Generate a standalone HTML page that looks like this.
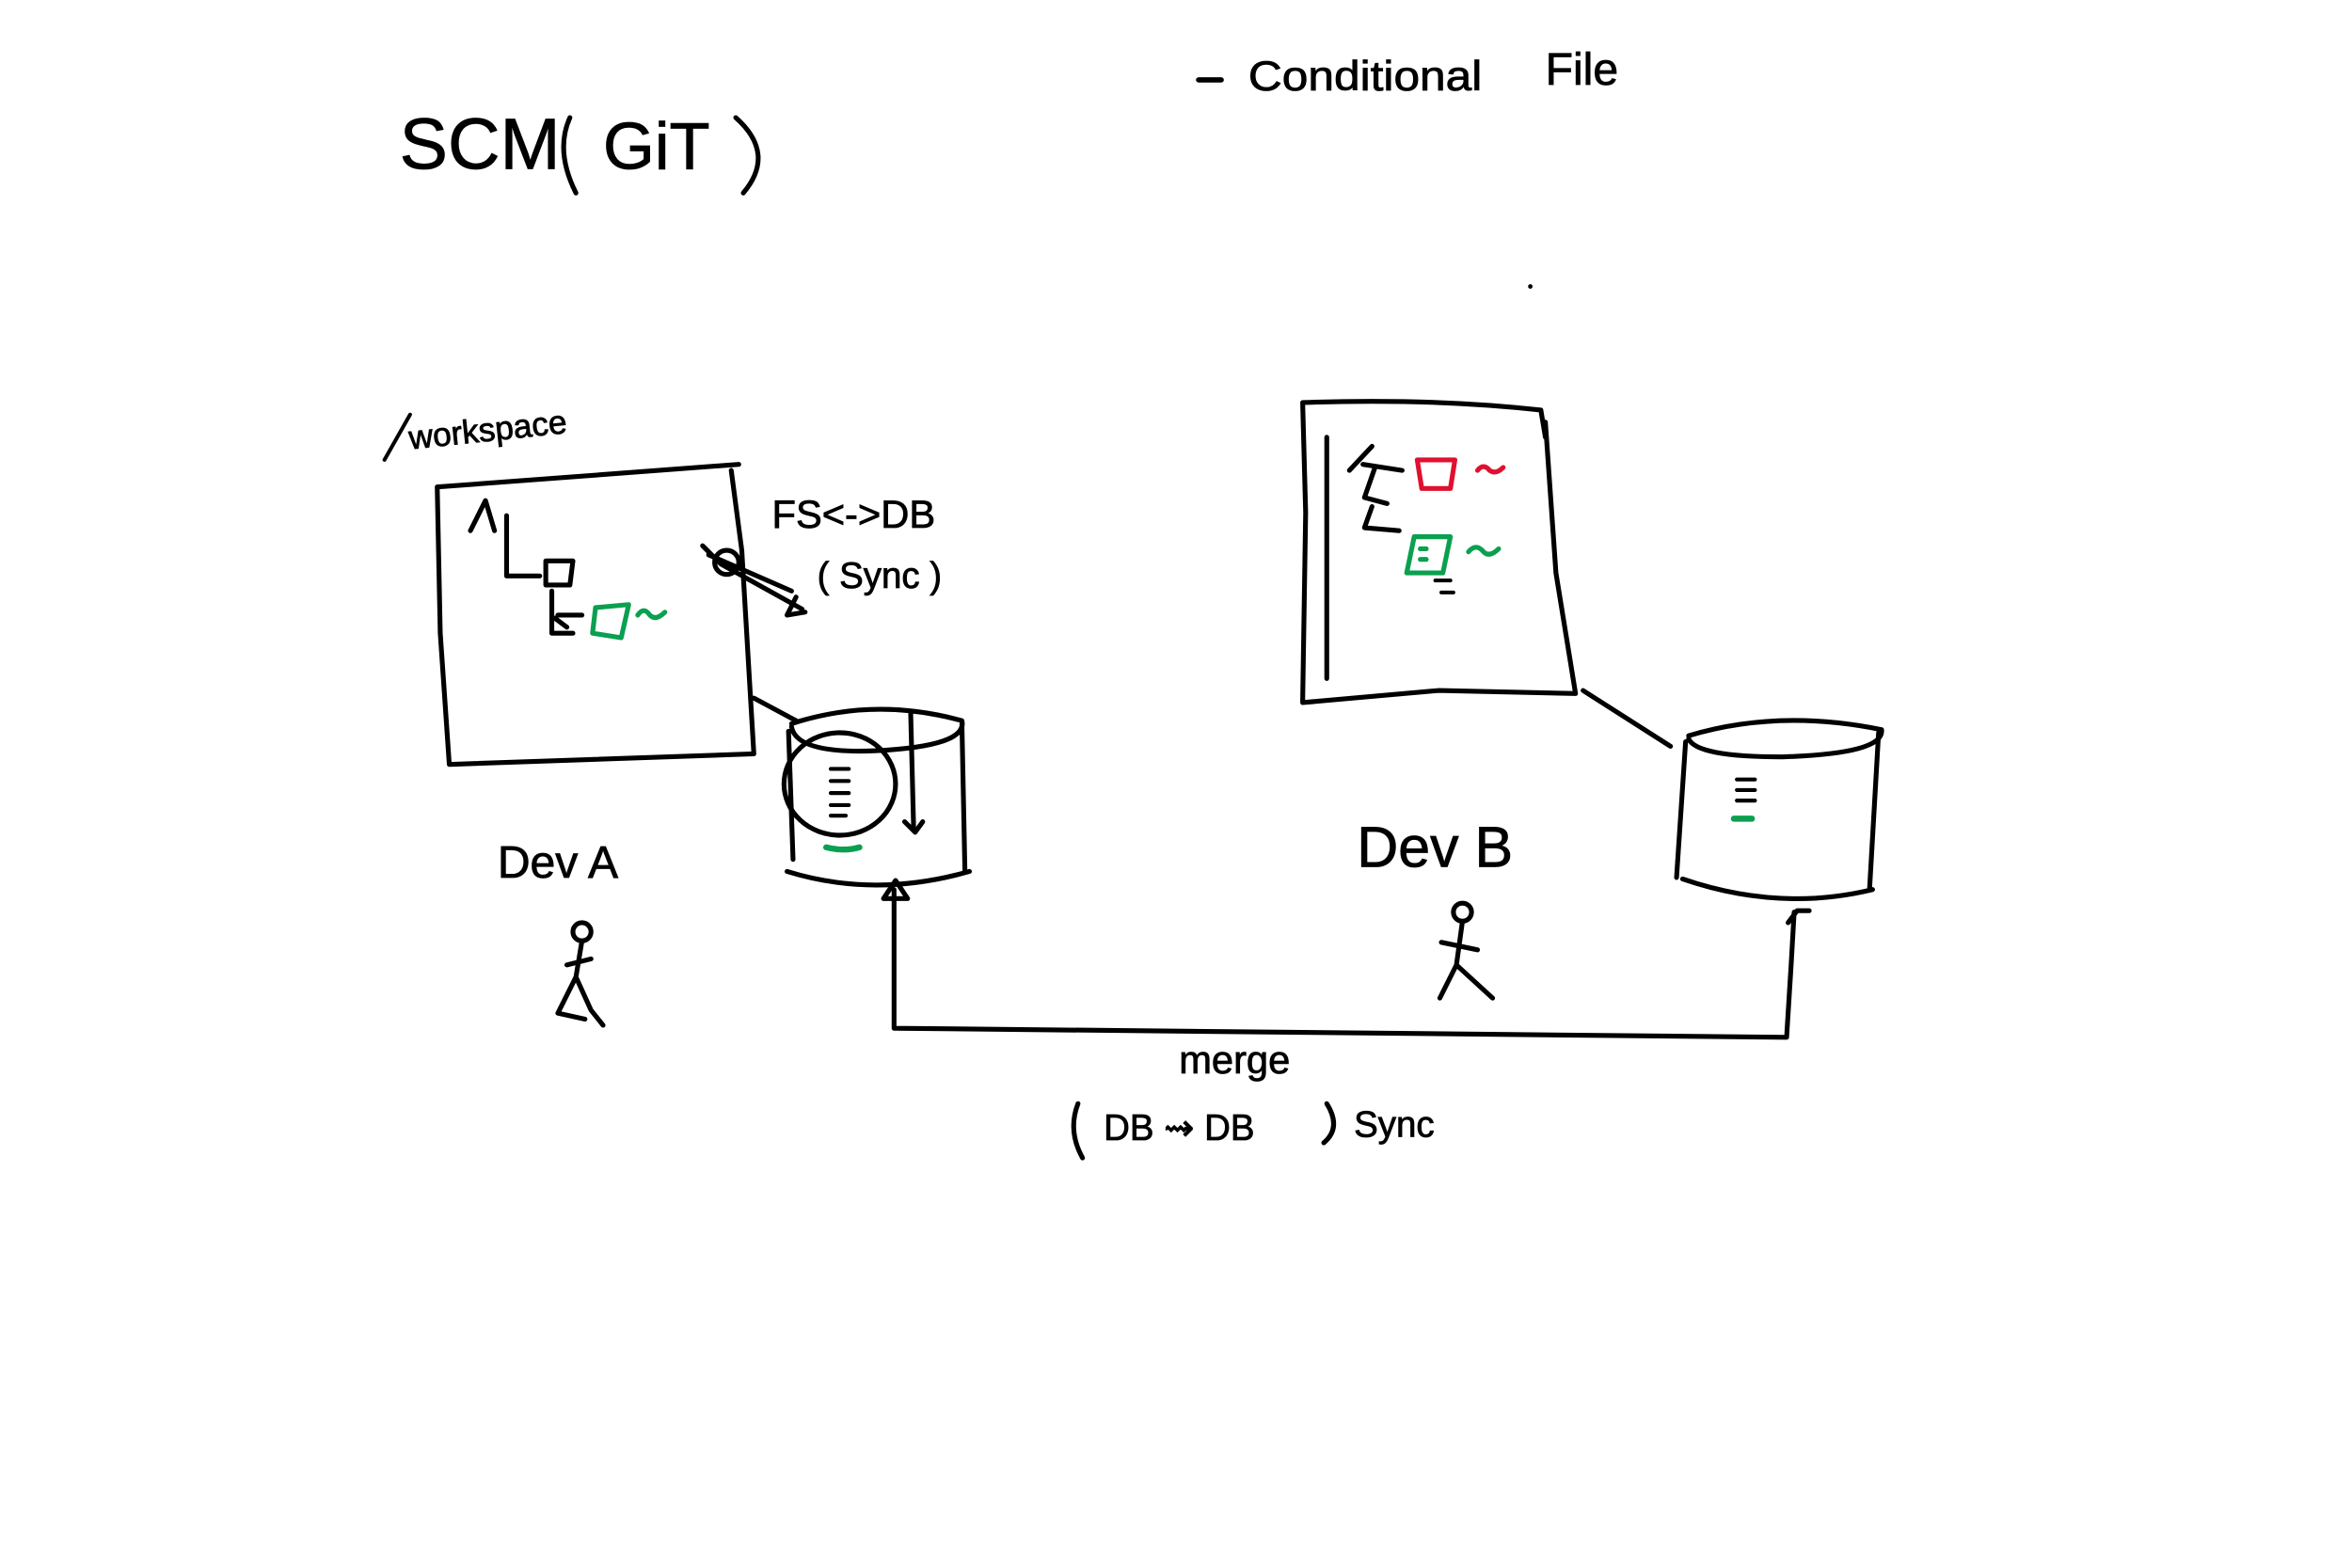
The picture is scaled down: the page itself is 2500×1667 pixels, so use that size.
<!DOCTYPE html>
<html><head><meta charset="utf-8"><style>
html,body{margin:0;padding:0;background:#fff;}
svg{display:block;}
text{font-family:"Liberation Sans",sans-serif;fill:#000;}
</style></head><body>
<svg width="2500" height="1667" viewBox="0 0 1560 1040" preserveAspectRatio="none" xmlns="http://www.w3.org/2000/svg">
<g fill="none" stroke="#000" stroke-width="3.2" stroke-linecap="round" stroke-linejoin="round">
<path d="M290 323 L490 308 M485 312 L492 365 L500 500 L298 507 L292 420 L290 323"/>
<path d="M312 352 L322 332 L328 352 M336 342 L336 382 L358 382 M362 372 L380 372 L378 388 L362 388 Z M366 392 L366 420 L380 420 M370 408 L386 408 M368 410 L376 416"/>
<path d="M466 362 L478 374 L532 404 M470 368 L525 392 M528 396 L522 408 L534 406"/>
<circle cx="482" cy="373" r="8"/>
<path d="M525 480 Q580 462 638 478 Q642 495 580 498 Q528 500 525 482 M523 485 L526 570 M638 480 L640 578 M522 578 Q580 596 643 578 M604 472 L606 550 M600 545 L607 552 L612 545"/>
<ellipse cx="557" cy="520" rx="37" ry="34"/>
<path d="M551 510h12 M551 518h12 M551 526h12 M551 534h12 M551 541h10" stroke-width="2.6"/>
<line x1="500" y1="463" x2="528" y2="478"/>
<path d="M864 267 Q950 264 1022 272 L1025 290 M1025 280 L1032 380 L1045 460 L954 458 L864 466 L866 340 L864 267"/>
<path d="M880 290 L880 450"/>
<path d="M895 312 L910 296 M904 308 L930 312 M912 310 L905 330 L920 334 M910 336 L905 350 L928 352"/>
<path d="M952 385h10 M956 393h8" stroke-width="2.5"/>
<path d="M1120 488 Q1180 470 1248 484 Q1250 500 1182 502 Q1125 502 1120 490 M1118 492 L1112 582 M1246 486 L1240 590 M1116 583 Q1180 605 1242 590"/>
<path d="M1152 517h12 M1152 524h12 M1152 531h12" stroke-width="2.6"/>
<line x1="1050" y1="458" x2="1108" y2="495"/>
<path d="M593 590 L593 682 L1185 688 L1188 640 L1190 605"/>
<path d="M586 596 L594 584 L602 596 Z M1186 612 L1192 604 L1200 604"/>
<circle cx="386" cy="618" r="6"/>
<path d="M386 624 L382 648 L392 670 L400 680 M376 640 L392 636 M382 648 L370 672 L388 676"/>
<circle cx="970" cy="605" r="6"/>
<path d="M970 611 L966 640 L955 662 M966 640 L990 662 M956 625 L980 630"/>
<g stroke="#0aa050">
<path d="M395 403 L417 401 L412 423 L393 420 Z M423 408 q4 -6 8 0 q4 4 10 -2"/>
<path d="M938 356 L962 356 L957 380 L933 380 Z M942 364h4 M942 371h4 M974 366 q5 -6 10 0 q4 4 10 -2"/>
<path d="M548 562 Q560 565 570 562" stroke-width="4"/>
<path d="M1150 543 L1162 543" stroke-width="4"/>
</g>
<g stroke="#e01030">
<path d="M940 305 L965 305 L962 324 L943 324 Z M980 312 q4 -5 8 0 q4 3 9 -2"/>
</g>
<path d="M795 53 L810 53" stroke-width="3.5"/>
<path d="M255 305 L272 275" stroke-width="2.5"/>
<path d="M378 78 Q368 100 382 128 M488 78 Q515 102 493 128"/>
<path d="M715 732 Q708 750 718 768 M880 732 Q890 748 878 758"/>
</g>
<circle cx="1015" cy="190" r="1.5" fill="#000"/>
<g stroke="#000" stroke-width="0.5">
<text x="265" y="112" font-size="48">SCM</text>
<text x="400" y="112" font-size="44">GiT</text>
<text x="828" y="60" font-size="28" textLength="155" lengthAdjust="spacingAndGlyphs">Conditional</text>
<text x="1025" y="56" font-size="30">File</text>
<text x="272" y="298" font-size="22" transform="rotate(-6 272 298)">workspace</text>
<text x="512" y="350" font-size="26">FS&lt;-&gt;DB</text>
<text x="542" y="390" font-size="24">( Sync )</text>
<text x="330" y="582" font-size="30">Dev A</text>
<text x="900" y="575" font-size="38">Dev B</text>
<text x="782" y="712" font-size="26">merge</text>
<text x="732" y="756" font-size="24">DB ⇝ DB</text>
<text x="898" y="754" font-size="24">Sync</text>
</g>
</svg>
</body></html>
